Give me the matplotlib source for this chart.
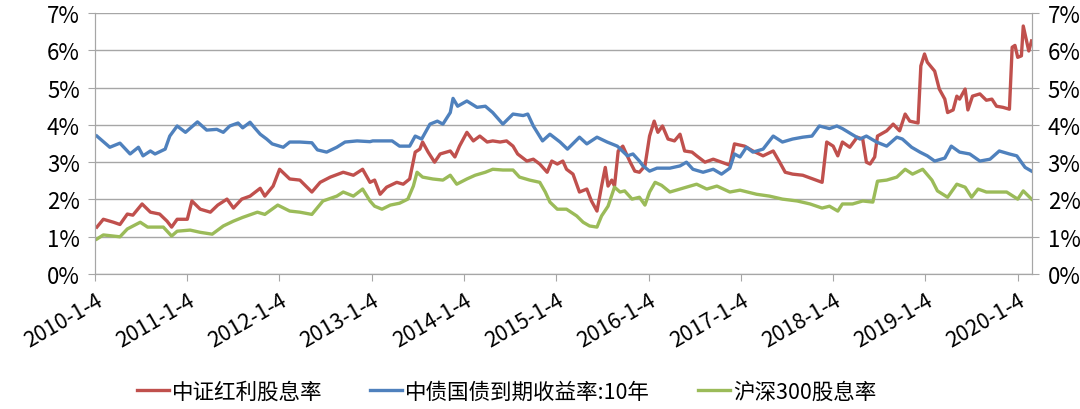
import matplotlib
matplotlib.use("Agg")
import matplotlib.pyplot as plt
import pandas as pd

plt.rcParams['font.family'] = ['Noto Sans CJK SC', 'DejaVu Sans']

# 时间用"距 2010-1-4 的年数"表示（小数年）
red_t = [2010.02, 2010.09, 2010.20, 2010.27, 2010.35, 2010.41, 2010.51, 2010.60, 2010.70, 2010.78,
         2010.83, 2010.89, 2011.00, 2011.05, 2011.14, 2011.25, 2011.33, 2011.43, 2011.50, 2011.59,
         2011.68, 2011.79, 2011.84, 2011.93, 2012.00, 2012.11, 2012.22, 2012.35, 2012.44, 2012.55,
         2012.69, 2012.80, 2012.90, 2012.98, 2013.03, 2013.09, 2013.16, 2013.27, 2013.34, 2013.41,
         2013.47, 2013.52, 2013.55, 2013.61, 2013.68, 2013.74, 2013.85, 2013.90, 2013.95, 2014.03,
         2014.10, 2014.17, 2014.25, 2014.31, 2014.39, 2014.46, 2014.53, 2014.58, 2014.68, 2014.75,
         2014.82, 2014.90, 2014.95, 2015.01, 2015.07, 2015.11, 2015.18, 2015.25, 2015.33, 2015.38,
         2015.44, 2015.49, 2015.53, 2015.56, 2015.60, 2015.63, 2015.67, 2015.72, 2015.80, 2015.85,
         2015.90, 2015.96, 2016.01, 2016.06, 2016.10, 2016.15, 2016.21, 2016.28, 2016.34, 2016.39,
         2016.47, 2016.52, 2016.61, 2016.70, 2016.79, 2016.88, 2016.93, 2017.04, 2017.13, 2017.24,
         2017.35, 2017.42, 2017.48, 2017.56, 2017.67, 2017.78, 2017.88, 2017.93, 2018.00, 2018.05,
         2018.10, 2018.18, 2018.26, 2018.32, 2018.36, 2018.40, 2018.45, 2018.48, 2018.58, 2018.65,
         2018.72, 2018.78, 2018.83, 2018.92, 2018.95, 2018.99, 2019.02, 2019.10, 2019.15, 2019.21,
         2019.24, 2019.30, 2019.34, 2019.37, 2019.43, 2019.46, 2019.51, 2019.59, 2019.66, 2019.72,
         2019.77, 2019.84, 2019.91, 2019.94, 2019.97, 2020.00, 2020.04, 2020.06, 2020.10, 2020.12,
         2020.15]
red_v = [1.26, 1.47, 1.39, 1.33, 1.61, 1.58, 1.88, 1.66, 1.61, 1.42,
         1.26, 1.47, 1.47, 1.96, 1.74, 1.66, 1.85, 2.01, 1.77, 2.01,
         2.09, 2.30, 2.09, 2.36, 2.81, 2.55, 2.52, 2.20, 2.46, 2.60,
         2.73, 2.65, 2.81, 2.46, 2.52, 2.14, 2.33, 2.46, 2.41, 2.55,
         3.27, 3.35, 3.54, 3.27, 3.00, 3.22, 3.30, 3.14, 3.43, 3.80,
         3.57, 3.70, 3.54, 3.57, 3.54, 3.57, 3.43, 3.22, 3.03, 3.08,
         2.95, 2.73, 3.03, 2.95, 3.03, 2.81, 2.68, 2.20, 2.28, 1.96,
         1.69, 2.36, 2.86, 2.36, 2.52, 2.36, 3.30, 3.43, 3.00, 2.76,
         2.73, 2.90, 3.70, 4.10, 3.80, 3.97, 3.62, 3.57, 3.75, 3.30,
         3.27, 3.17, 3.00, 3.08, 3.00, 2.92, 3.49, 3.43, 3.30, 3.17,
         3.30, 3.00, 2.73, 2.68, 2.65, 2.55, 2.46, 3.54, 3.43, 3.17,
         3.54, 3.40, 3.67, 3.62, 3.00, 2.95, 3.14, 3.70, 3.84, 4.02,
         3.84, 4.29, 4.10, 4.05, 5.58, 5.90, 5.68, 5.44, 4.96, 4.69,
         4.33, 4.40, 4.77, 4.69, 4.96, 4.40, 4.77, 4.83, 4.66, 4.69,
         4.50, 4.47, 4.42, 6.08, 6.13, 5.81, 5.85, 6.65, 6.21, 5.98,
         6.25]

blue_t = [2010.02, 2010.16, 2010.27, 2010.38, 2010.47, 2010.52, 2010.60, 2010.65, 2010.76, 2010.81,
          2010.89, 2010.98, 2011.11, 2011.21, 2011.32, 2011.39, 2011.46, 2011.55, 2011.60, 2011.68,
          2011.73, 2011.79, 2011.86, 2011.92, 2012.04, 2012.11, 2012.22, 2012.35, 2012.41, 2012.51,
          2012.62, 2012.71, 2012.84, 2012.98, 2013.01, 2013.22, 2013.30, 2013.41, 2013.47, 2013.54,
          2013.63, 2013.71, 2013.77, 2013.85, 2013.88, 2013.93, 2014.03, 2014.14, 2014.23, 2014.31,
          2014.42, 2014.53, 2014.64, 2014.69, 2014.75, 2014.85, 2014.93, 2015.04, 2015.12, 2015.25,
          2015.33, 2015.44, 2015.55, 2015.66, 2015.77, 2015.83, 2015.90, 2015.94, 2016.01, 2016.09,
          2016.23, 2016.34, 2016.41, 2016.48, 2016.59, 2016.70, 2016.79, 2016.88, 2016.93, 2016.99,
          2017.06, 2017.13, 2017.24, 2017.35, 2017.45, 2017.56, 2017.67, 2017.77, 2017.85, 2017.96,
          2018.04, 2018.10, 2018.20, 2018.29, 2018.36, 2018.47, 2018.58, 2018.69, 2018.75, 2018.85,
          2018.94, 2019.02, 2019.10, 2019.21, 2019.28, 2019.37, 2019.48, 2019.59, 2019.70, 2019.80,
          2019.91, 2019.99, 2020.08, 2020.15]
blue_v = [3.70, 3.40, 3.51, 3.22, 3.40, 3.17, 3.30, 3.22, 3.35, 3.70,
          3.97, 3.80, 4.08, 3.86, 3.88, 3.80, 3.97, 4.05, 3.92, 4.07,
          3.92, 3.75, 3.62, 3.49, 3.40, 3.54, 3.54, 3.52, 3.33, 3.27,
          3.40, 3.54, 3.57, 3.55, 3.57, 3.57, 3.43, 3.43, 3.70, 3.62,
          4.02, 4.10, 4.02, 4.33, 4.71, 4.50, 4.64, 4.47, 4.50, 4.33,
          4.02, 4.29, 4.25, 4.29, 3.97, 3.57, 3.75, 3.54, 3.35, 3.67,
          3.49, 3.67, 3.54, 3.43, 3.17, 3.22, 3.03, 2.90, 2.76, 2.84,
          2.84, 2.90, 3.00, 2.81, 2.73, 2.81, 2.68, 2.84, 3.22, 3.14,
          3.40, 3.27, 3.35, 3.70, 3.54, 3.62, 3.67, 3.70, 3.97, 3.90,
          3.97, 3.90, 3.75, 3.62, 3.70, 3.54, 3.43, 3.67, 3.62, 3.40,
          3.27, 3.17, 3.03, 3.11, 3.43, 3.27, 3.22, 3.03, 3.08, 3.30,
          3.22, 3.17, 2.86, 2.76]

green_t = [2010.02, 2010.09, 2010.27, 2010.35, 2010.49, 2010.57, 2010.74, 2010.83, 2010.89, 2011.03,
           2011.14, 2011.27, 2011.39, 2011.50, 2011.60, 2011.76, 2011.84, 2011.98, 2012.11, 2012.22,
           2012.35, 2012.47, 2012.62, 2012.69, 2012.80, 2012.90, 2012.98, 2013.03, 2013.11, 2013.20,
           2013.30, 2013.39, 2013.45, 2013.49, 2013.55, 2013.66, 2013.77, 2013.85, 2013.92, 2014.03,
           2014.12, 2014.23, 2014.31, 2014.42, 2014.53, 2014.60, 2014.71, 2014.82, 2014.88, 2014.93,
           2015.01, 2015.11, 2015.22, 2015.29, 2015.36, 2015.44, 2015.49, 2015.56, 2015.63, 2015.69,
           2015.74, 2015.82, 2015.90, 2015.96, 2016.01, 2016.07, 2016.14, 2016.23, 2016.34, 2016.52,
           2016.63, 2016.74, 2016.88, 2016.99, 2017.17, 2017.31, 2017.45, 2017.61, 2017.75, 2017.88,
           2017.96, 2018.05, 2018.10, 2018.21, 2018.32, 2018.43, 2018.48, 2018.58, 2018.69, 2018.78,
           2018.86, 2018.97, 2019.07, 2019.13, 2019.24, 2019.34, 2019.43, 2019.50, 2019.57, 2019.66,
           2019.77, 2019.88, 2020.00, 2020.06, 2020.15]
green_v = [0.94, 1.05, 1.00, 1.21, 1.39, 1.26, 1.26, 1.02, 1.15, 1.18,
           1.12, 1.07, 1.29, 1.42, 1.52, 1.66, 1.60, 1.85, 1.69, 1.66,
           1.60, 1.96, 2.09, 2.20, 2.09, 2.28, 1.96, 1.82, 1.74, 1.85,
           1.90, 2.01, 2.36, 2.73, 2.60, 2.55, 2.52, 2.65, 2.41, 2.55,
           2.65, 2.73, 2.81, 2.79, 2.79, 2.60, 2.52, 2.46, 2.20, 1.93,
           1.74, 1.74, 1.56, 1.39, 1.29, 1.26, 1.56, 1.82, 2.33, 2.20,
           2.23, 2.01, 2.06, 1.85, 2.20, 2.46, 2.38, 2.20, 2.28, 2.41,
           2.28, 2.36, 2.20, 2.25, 2.14, 2.09, 2.01, 1.96, 1.88, 1.77,
           1.82, 1.69, 1.88, 1.88, 1.96, 1.93, 2.49, 2.52, 2.60, 2.81,
           2.68, 2.81, 2.52, 2.23, 2.06, 2.41, 2.33, 2.06, 2.28, 2.20,
           2.20, 2.20, 2.01, 2.23, 2.01]

labels = ['中证红利股息率', '中债国债到期收益率:10年', '沪深300股息率']
colors = ['#C0504D', '#4F81BD', '#9BBB59']
year_ticks = list(range(2010, 2021))

base = pd.Timestamp('2010-01-04')


def to_dates(ts):
    return [base + pd.Timedelta(days=(t - 2010) * 365.25) for t in ts]


fig = plt.figure(figsize=(10.8, 4.1), dpi=100)
ax = fig.add_axes([0.088, 0.329, 0.868, 0.637])

for t, v, lab, c in zip([red_t, blue_t, green_t], [red_v, blue_v, green_v], labels, colors):
    ax.plot(to_dates(t), v, color=c, lw=2.4, label=lab)

grid_c = '#a6a6a6'
ax.set_ylim(0, 7)
ax.set_yticks(range(0, 8))
ax.yaxis.grid(True, color=grid_c, lw=1)
ax.set_axisbelow(True)
ax.set_xlim(base, base + pd.Timedelta(days=10.16 * 365.25))

# 每年 1 月 4 日一个刻度
ticks = [pd.Timestamp(f'{y}-01-04') for y in year_ticks]
ax.set_xticks(ticks)
ax.set_xticklabels([f'{y}-1-4' for y in year_ticks], rotation=30, ha='right',
                   rotation_mode='anchor', fontsize=15.5)
ax.tick_params(axis='x', length=5, color=grid_c, pad=6)
ax.tick_params(axis='y', length=5, color=grid_c, labelsize=16, pad=6)
ax.set_yticklabels([f'{i}%' for i in range(0, 8)])

ax.spines['top'].set_visible(False)
for s in ['left', 'bottom', 'right']:
    ax.spines[s].set_color(grid_c)

# 右侧坐标轴
ax2 = ax.twinx()
ax2.set_ylim(0, 7)
ax2.set_yticks(range(0, 8))
ax2.set_yticklabels([f'{i}%' for i in range(0, 8)])
ax2.tick_params(axis='y', length=5, color=grid_c, labelsize=16, pad=6)
ax2.spines['top'].set_visible(False)
for s in ['left', 'bottom', 'right']:
    ax2.spines[s].set_color(grid_c)

fig.legend(loc='center', bbox_to_anchor=(0.469, 0.043), ncol=3, frameon=False,
           fontsize=15.5, handlelength=1.5, handletextpad=0.15, columnspacing=2.2)

fig.savefig('out.png', dpi=100)
